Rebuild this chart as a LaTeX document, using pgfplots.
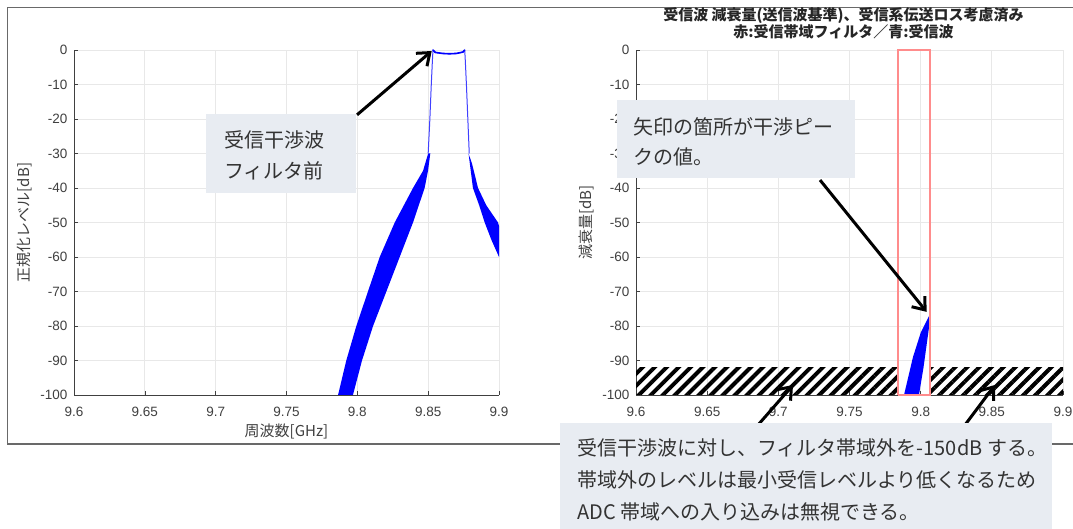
\documentclass[border=0pt]{standalone}
\usepackage{fontspec}
\setmainfont{Noto Sans CJK JP}
\newfontfamily\tickfont{Liberation Sans}
\usepackage{pgfplots}
\pgfplotsset{compat=1.18}
\usetikzlibrary{arrows.meta,patterns.meta}

\definecolor{boxbg}{RGB}{232,236,242}
\definecolor{axgray}{RGB}{64,64,64}
\definecolor{gridgray}{RGB}{232,232,232}
\definecolor{framegray}{RGB}{105,105,105}
\definecolor{filtred}{RGB}{255,140,140}

\pgfplotsset{
  mystyle/.style={
    scale only axis,
    xmin=9.6, xmax=9.9, ymin=-100, ymax=0,
    xtick={9.6,9.65,9.7,9.75,9.8,9.85,9.9},
    xticklabels={9.6,9.65,9.7,9.75,9.8,9.85,9.9},
    ytick={-100,-90,-80,-70,-60,-50,-40,-30,-20,-10,0},
    axis x line=bottom, axis y line=left,
    axis line style={-, axgray, line width=0.8pt},
    grid=major,
    major grid style={gridgray, line width=0.8pt},
    tick style={axgray, line width=0.6pt},
    tick align=inside,
    major tick length=4pt,
    tick label style={font=\tickfont\fontsize{13.5}{14}\selectfont, text=axgray},
    xticklabel style={yshift=-9pt},
    yticklabel style={xshift=-3pt},
    /pgf/number format/assume math mode=true,
    label style={font=\fontsize{15}{16}\selectfont, text=axgray},
    xlabel style={yshift=0pt},
    ylabel style={yshift=2pt},
    clip=false,
  }
}
\tikzset{arr/.style={line width=3pt, -{Straight Barb[length=11pt,width=17pt]}}}

\begin{document}
\begin{tikzpicture}
\useasboundingbox (0,0) rectangle (1073pt,529pt);
\fill[white] (0,0) rectangle (1073pt,529pt);
\draw[framegray, line width=1.8pt] (7.5pt,85pt) rectangle (1090pt,521.5pt);

% ---------------- left axis
\begin{axis}[mystyle, at={(74pt,134pt)}, anchor=south west,
  width=425pt, height=345pt,
  xlabel={周波数[GHz]}, ylabel={正規化レベル[dB]}]
\addplot[draw=none, fill=blue] coordinates {
 (9.7864,-100)(9.7922,-90)(9.7993,-80)(9.8075,-70)(9.8158,-60)(9.8264,-50)
 (9.8393,-40)(9.8464,-35)(9.8500,-30)(9.8515,-30)(9.8499,-35)(9.8475,-40)
 (9.8393,-50)(9.8299,-60)(9.8205,-70)(9.8111,-80)(9.8033,-90)(9.7969,-100)};
\addplot[blue!75, line width=1pt] coordinates {
 (9.8500,-30)(9.8512,-20)(9.8522,-10)(9.8530,-3)(9.8534,0)(9.855,-0.7)
 (9.860,-1)(9.865,-1.1)(9.870,-1)(9.8745,-0.6)(9.8758,0)(9.8762,-3)
 (9.877,-10)(9.878,-20)(9.879,-30)};
\addplot[blue, line width=1.6pt] coordinates {
 (9.8534,0)(9.855,-0.7)(9.860,-1)(9.865,-1.1)(9.870,-1)(9.8745,-0.6)(9.8758,0)};
\addplot[draw=none, fill=blue] coordinates {
 (9.8785,-30)(9.8816,-40)(9.8860,-45)(9.8899,-50)(9.8946,-55)(9.9,-60)
 (9.9,-51)(9.8993,-50)(9.891,-45)(9.8852,-40)(9.8810,-33)};
\draw[arr] (axis cs:9.7998,-18.8) -- (axis cs:9.8525,-0.3);
\end{axis}

% ---------------- right axis
\begin{axis}[mystyle, at={(636pt,134pt)}, anchor=south west,
  width=427pt, height=345pt,
  xlabel={周波数[GHz]}, ylabel={減衰量[dB]},
  title={受信波 減衰量(送信波基準)、受信系伝送ロス考慮済み\\赤:受信帯域フィルタ／青:受信波},
  title style={align=center, font=\bfseries\fontsize{15}{17}\selectfont,
    text=black!85, at={(0.5,1)}, anchor=south, yshift=1pt, xshift=-6pt}]
\addplot[draw=none, pattern={Lines[angle=45,distance=8.5pt,line width=4pt]}, pattern color=black]
 coordinates {(9.6,-100)(9.7841,-100)(9.7841,-91.9)(9.6,-91.9)};
\addplot[draw=none, pattern={Lines[angle=45,distance=8.5pt,line width=4pt]}, pattern color=black]
 coordinates {(9.8066,-100)(9.9,-100)(9.9,-91.9)(9.8066,-91.9)};
\addplot[draw=none, fill=blue] coordinates {
 (9.7883,-100)(9.7946,-89)(9.8000,-82)(9.8060,-77)(9.8060,-80)(9.8040,-86)
 (9.8020,-92)(9.7988,-100)};
\addplot[filtred, line width=1.5pt] coordinates {
 (9.7841,-100)(9.7841,0)(9.8066,0)(9.8066,-100)(9.7841,-100)};
\draw[arr] (axis cs:9.7293,-37.7) -- (axis cs:9.8042,-75.9);
\draw[arr] (axis cs:9.6857,-108.7) -- (axis cs:9.7103,-97.1);
\draw[arr] (axis cs:9.8311,-108.7) -- (axis cs:9.8522,-97.1);
\end{axis}

% ---------------- text boxes
\begin{scope}[every node/.style={anchor=base west, inner sep=0pt,
   font=\fontsize{20}{24}\selectfont, text=black!80}]
\fill[boxbg] (206pt,336pt) rectangle (356pt,415pt);
\node at (224pt,381.5pt) {受信干渉波};
\node at (224pt,350.5pt) {フィルタ前};

\fill[boxbg] (617pt,351pt) rectangle (855pt,429pt);
\node at (633pt,394.5pt) {矢印の箇所が干渉ピー};
\node at (633pt,364.5pt) {クの値。};

\fill[boxbg] (560pt,-2pt) rectangle (1052pt,106pt);
\node at (577pt,73.5pt) {受信干渉波に対し、フィルタ帯域外を-150dB する。};
\node at (577pt,41.5pt) {帯域外のレベルは最小受信レベルより低くなるため};
\node at (577pt,9.5pt) {ADC 帯域への入り込みは無視できる。};
\end{scope}
\end{tikzpicture}
\end{document}
